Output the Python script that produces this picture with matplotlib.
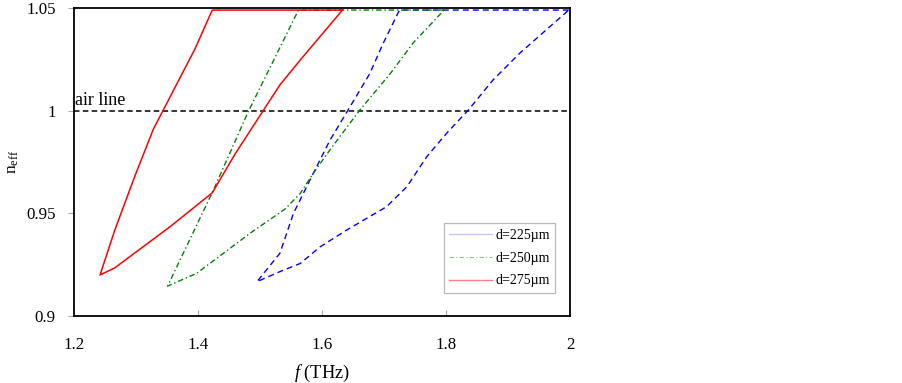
import matplotlib
matplotlib.use("Agg")
import matplotlib.pyplot as plt
from matplotlib.lines import Line2D

plt.rcParams['font.family'] = ['Liberation Serif', 'DejaVu Serif']
plt.rcParams['mathtext.fontset'] = 'custom'
plt.rcParams['mathtext.rm'] = 'Liberation Serif'
plt.rcParams['mathtext.it'] = 'Liberation Serif:italic'

# d = 225 um (blue, dashed): upper branch down, then lower branch up
f225 = [1.998, 1.725, 1.699, 1.677, 1.642, 1.613, 1.586, 1.554, 1.532, 1.495,
        1.532, 1.565, 1.597, 1.640, 1.704, 1.737, 1.769, 1.801, 1.836, 1.876, 1.919, 1.998]
n225 = [1.049, 1.049, 1.033, 1.018, 1.0003, 0.9857, 0.9695, 0.950, 0.9305, 0.9167,
        0.9216, 0.9256, 0.9337, 0.9419, 0.9532, 0.963, 0.9776, 0.989, 1.0003, 1.015, 1.028, 1.049]

# d = 250 um (green, dash-dot)
f250 = [1.797, 1.562, 1.481, 1.425, 1.351, 1.398, 1.484, 1.540, 1.565, 1.586,
        1.613, 1.661, 1.710, 1.747, 1.797]
n250 = [1.049, 1.049, 0.9995, 0.9614, 0.9146, 0.9208, 0.9403, 0.952, 0.9597, 0.9695,
        0.981, 1.0003, 1.018, 1.033, 1.049]

# d = 275 um (red, solid)
f275 = [1.633, 1.423, 1.395, 1.328, 1.298, 1.266, 1.242, 1.266, 1.355, 1.423,
        1.460, 1.532, 1.565, 1.633]
n275 = [1.049, 1.049, 1.030, 0.991, 0.968, 0.942, 0.920, 0.9235, 0.9435, 0.960,
        0.979, 1.0125, 1.0247, 1.049]

labels = ['d=225µm', 'd=250µm', 'd=275µm']
xticks = [1.2, 1.4, 1.6, 1.8, 2.0]
xticklabels = ['1.2', '1.4', '1.6', '1.8', '2']
yticks = [0.9, 0.95, 1.0, 1.05]
yticklabels = ['0.9', '0.95', '1', '1.05']
air_n = 1.0

fig = plt.figure(figsize=(9.03, 3.83), dpi=100)
ax = fig.add_axes([74 / 903, 1 - 316 / 383, 496 / 903, 308 / 383])

ax.axhline(air_n, color='black', lw=1.1, dashes=(3.6, 2.2))
ax.text(1.2015, 1.0028, 'air line', fontsize=13, va='baseline', ha='left')

ax.plot(f225, n225, color='#0000ff', lw=1.0, dashes=(4.3, 2.9))
ax.plot(f250, n250, color='#0a7d0a', lw=1.0, dashes=(4.0, 2.0, 1.0, 2.0))
ax.plot(f275, n275, color='#ff0000', lw=1.1)

ax.set_xlim(1.2, 2.0)
ax.set_ylim(0.9, 1.05)
ax.set_xticks(xticks)
ax.set_xticklabels(xticklabels)
ax.set_yticks(yticks)
ax.set_yticklabels(yticklabels)
ax.tick_params(axis='x', direction='in', length=4, color='#aaaaaa', pad=15, labelsize=12.2)
ax.tick_params(axis='y', direction='out', length=4, color='#aaaaaa', pad=9, labelsize=12.2)
for s in ax.spines.values():
    s.set_linewidth(1.3)
    s.set_color('black')

ax.set_xlabel(r'$\it{f}$ (THz)', fontsize=13.2, labelpad=7)
ax.set_ylabel(r'$\mathregular{n_{eff}}$', fontsize=12.5, labelpad=4)

handles = [Line2D([], [], color='#c8c8ff', lw=1.0),
           Line2D([], [], color='#90c090', lw=0.8, dashes=(4, 2, 1, 2)),
           Line2D([], [], color='#ff8080', lw=1.0)]
leg = ax.legend(handles, labels, loc='lower right', bbox_to_anchor=(0.970, 0.0747),
                fontsize=10, handlelength=3.1, handletextpad=0.2, labelspacing=0.7,
                borderpad=0.4, fancybox=False, framealpha=1, edgecolor='#bbbbbb',
                borderaxespad=0)
leg.get_frame().set_linewidth(0.9)

fig.savefig('out.png', dpi=100)
